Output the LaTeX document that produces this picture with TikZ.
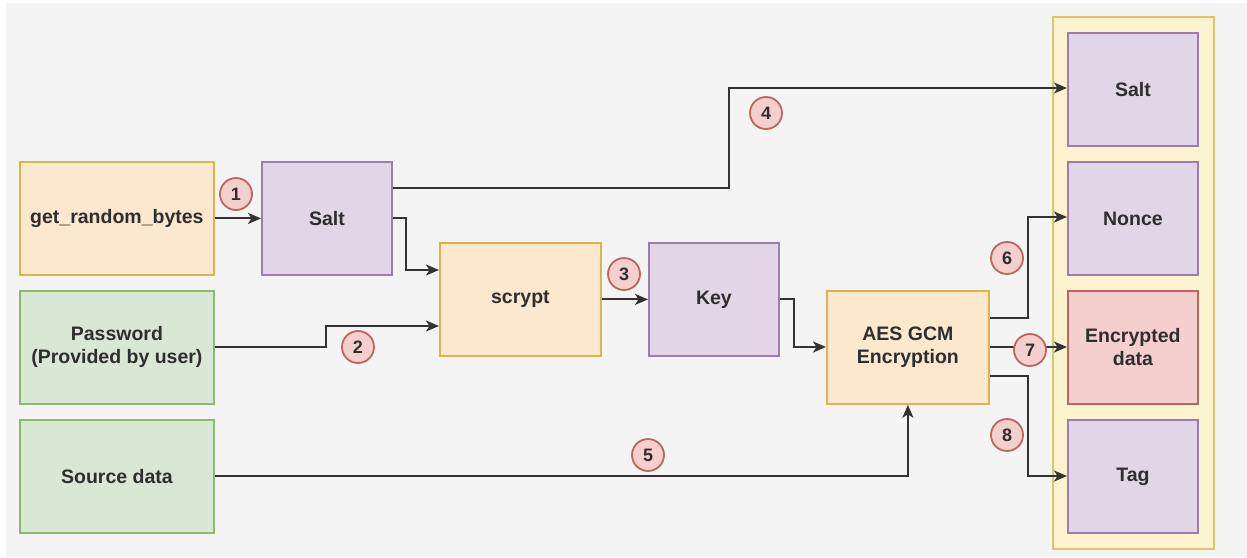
\documentclass[tikz,border=0pt]{standalone}
\usepackage{fontspec}
\setmainfont{Liberation Sans}
\usetikzlibrary{arrows.meta}

\definecolor{bgc}{HTML}{F4F4F4}
\definecolor{orfill}{HTML}{FCE7CF}
\definecolor{ordraw}{HTML}{DDB34A}
\definecolor{pufill}{HTML}{E1D5E7}
\definecolor{pudraw}{HTML}{9C7DB0}
\definecolor{grfill}{HTML}{D8E8D4}
\definecolor{grdraw}{HTML}{8DBA72}
\definecolor{rdfill}{HTML}{F4CFCD}
\definecolor{rddraw}{HTML}{BD6560}
\definecolor{yefill}{HTML}{FEF3CF}
\definecolor{yedraw}{HTML}{DEC46A}
\definecolor{txt}{HTML}{2E2E2E}
\definecolor{wire}{HTML}{333333}

\tikzset{
  box/.style={rectangle, line width=1.8pt, inner sep=0pt, anchor=north west,
    align=center, text=txt, font=\bfseries\fontsize{19.5}{23}\selectfont},
  orangebox/.style={box, fill=orfill, draw=ordraw},
  purplebox/.style={box, fill=pufill, draw=pudraw},
  greenbox/.style={box, fill=grfill, draw=grdraw},
  redbox/.style={box, fill=rdfill, draw=rddraw},
  badge/.style={circle, fill=rdfill, draw=rddraw, line width=1.8pt,
    minimum size=32pt, inner sep=0pt, text=txt,
    font=\bfseries\fontsize{18}{18}\selectfont},
  flow/.style={draw=wire, line width=1.9pt,
    -{Stealth[length=13pt, width=11pt, inset=3.5pt]}},
}

\begin{document}
\begin{tikzpicture}[x=1pt, y=-1pt]
\useasboundingbox (0,0) rectangle (1247,557);
\fill[white] (0,0) rectangle (1247,557);
\fill[bgc] (6,3) rectangle (1247,557);

% output container
\node[box, fill=yefill, draw=yedraw, minimum width=161pt, minimum height=532pt] (store) at (1052,16) {};

% inputs
\node[orangebox, minimum width=194pt, minimum height=113pt] (rng) at (19,161) {get\_random\_bytes};
\node[greenbox, minimum width=194pt, minimum height=113pt] (pwd) at (19,290) {Password\\(Provided by user)};
\node[greenbox, minimum width=194pt, minimum height=113pt] (src) at (19,419) {Source data};

% processing
\node[purplebox, minimum width=130pt, minimum height=113pt] (salt) at (261,161) {Salt};
\node[orangebox, minimum width=161pt, minimum height=113pt] (scrypt) at (439,242) {scrypt};
\node[purplebox, minimum width=130pt, minimum height=113pt] (key) at (648,242) {Key};
\node[orangebox, minimum width=162pt, minimum height=113pt] (aes) at (826,290) {AES GCM\\Encryption};

% stored values
\node[purplebox, minimum width=130pt, minimum height=113pt] (osalt) at (1067,32) {Salt};
\node[purplebox, minimum width=130pt, minimum height=113pt] (nonce) at (1067,161) {Nonce};
\node[redbox, minimum width=130pt, minimum height=113pt] (enc) at (1067,290) {Encrypted\\data};
\node[purplebox, minimum width=130pt, minimum height=113pt] (tag) at (1067,419) {Tag};

% bend points
\coordinate (s4a) at (729,188);
\coordinate (s4b) at (729,88);

% connectors
\draw[flow] (rng.east) -- (salt.west);
\draw[flow] (salt.east) -| (406,270) -- (scrypt.west |- 0,270);
\draw[flow] (pwd.east) -| (326,326) -- (scrypt.west |- 0,326);
\draw[flow] (salt.east |- s4a) -- (s4a) -- (s4b) -- (osalt.west |- s4b);
\draw[flow] (scrypt.east) -- (key.west);
\draw[flow] (key.east) -| (794,347) -- (aes.west |- 0,347);
\draw[flow] (src.east) -| (aes.south);
\draw[flow] (aes.east |- 0,318) -| (1028,217) -- (nonce.west |- 0,217);
\draw[flow] (aes.east |- 0,347) -- (enc.west |- 0,347);
\draw[flow] (aes.east |- 0,376) -| (1028,476) -- (tag.west |- 0,476);

% step numbers
\node[badge] (b1) at (236,194) {1};
\node[badge] (b2) at (358,347) {2};
\node[badge] (b3) at (624,274) {3};
\node[badge] (b4) at (766,113) {4};
\node[badge] (b5) at (648,455) {5};
\node[badge] (b6) at (1007,258) {6};
\node[badge] (b7) at (1030,350) {7};
\node[badge] (b8) at (1007,435) {8};
\end{tikzpicture}
\end{document}
